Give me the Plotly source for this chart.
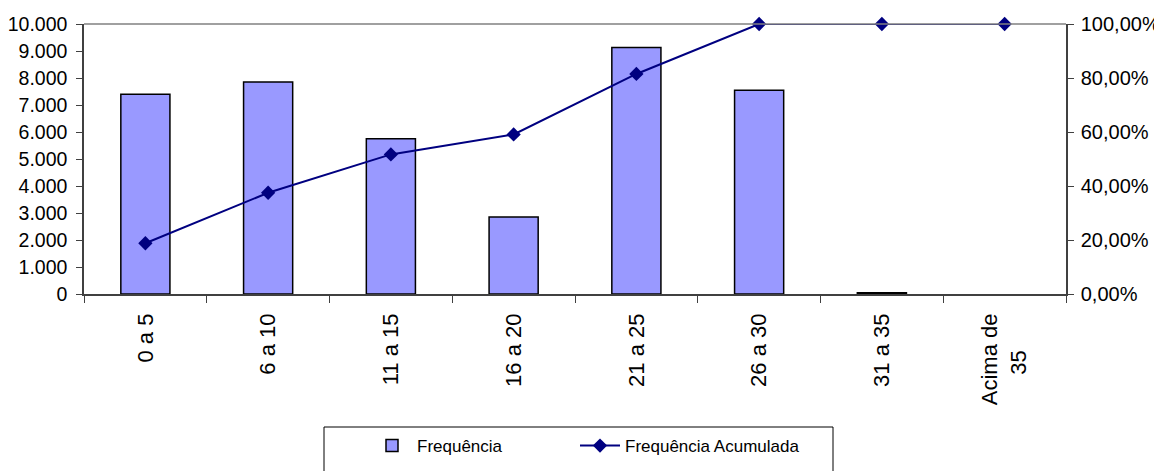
import plotly.graph_objects as go

NB = "\u00a0"
categories = ["0 a 5", "6 a 10", "11 a 15", "16 a 20", "21 a 25", "26 a 30", "31 a 35", "Acima de<br>35" + NB * 6]
frequencia = [7400, 7850, 5750, 2850, 9130, 7550, 50, 0]
freq_acumulada = [0.188, 0.375, 0.517, 0.591, 0.815, 1.0, 1.0, 1.0]

FONT = "Liberation Sans, Arial, sans-serif"

# the page body has an 8px margin: work in reference pixels, shift by 8
OFF = 8
W, H = 1162 - OFF, 471 - OFF
L, R, T, B = 84 - OFF, 1066 - OFF, 24 - OFF, 294 - OFF
AX = "#404040"


def px_x(p):
    return (p - OFF - L) / (R - L)


def px_y(p):
    return (B - (p - OFF)) / (B - T)


fig = go.Figure()
fig.add_trace(go.Bar(
    x=categories, y=frequencia, name="Frequência",
    marker=dict(color="#9999FF",
                line=dict(color="#000000", width=[1.5 if v > 0 else 0 for v in frequencia])),
    yaxis="y", legend="legend",
))
fig.add_trace(go.Scatter(
    x=categories, y=freq_acumulada, name="Frequência Acumulada",
    mode="lines+markers",
    line=dict(color="#000080", width=2),
    marker=dict(symbol="diamond", size=11, color="#000080"),
    yaxis="y2", cliponaxis=False, legend="legend2",
))

leg_common = dict(orientation="h", xanchor="left", y=px_y(428), yanchor="top",
                  borderwidth=0, bgcolor="rgba(0,0,0,0)", font=dict(size=17), itemwidth=40)

fig.update_layout(
    width=W, height=H,
    margin=dict(l=L, r=W - R, t=T, b=H - B, autoexpand=False),
    paper_bgcolor="white", plot_bgcolor="white",
    font=dict(family=FONT, size=20, color="black"),
    separators=",.",
    bargap=0.6,
    showlegend=True,
    xaxis=dict(
        type="category", range=[-0.5, 7.5], automargin=False,
        showline=True, linecolor=AX, linewidth=1.5,
        ticks="outside", ticklen=7, tickcolor=AX, tickwidth=1,
        tickson="boundaries", tickangle=-90, ticklabelstandoff=9,
        tickfont=dict(size=22), showgrid=False, zeroline=False,
    ),
    xaxis2=dict(
        overlaying="x", anchor="y", side="bottom", type="linear",
        range=[-0.5, 7.5], tick0=-0.5, dtick=1, automargin=False,
        ticks="inside", ticklen=6, tickcolor=AX, tickwidth=1,
        showticklabels=False, showline=False, showgrid=False, zeroline=False,
    ),
    yaxis=dict(
        range=[0, 10000], dtick=1000, tickformat=",d", automargin=False,
        showline=True, linecolor=AX, linewidth=1.5,
        ticks="outside", ticklen=6, tickcolor=AX, ticklabelstandoff=5,
        tickfont=dict(size=19.5),
        showgrid=False, zeroline=False,
    ),
    yaxis2=dict(
        range=[0, 1], dtick=0.2, tickformat=".2%", automargin=False,
        overlaying="y", side="right",
        showline=True, linecolor=AX, linewidth=1.5,
        ticks="outside", ticklen=6, tickcolor=AX, ticklabelstandoff=3,
        showgrid=False, zeroline=False,
    ),
    yaxis3=dict(
        range=[0, 10000], dtick=1000, overlaying="y", side="left", anchor="x",
        automargin=False, ticks="inside", ticklen=5, tickcolor=AX,
        showticklabels=False, showline=False, showgrid=False, zeroline=False,
    ),
    yaxis4=dict(
        range=[0, 1], dtick=0.2, overlaying="y", side="right", anchor="x",
        automargin=False, ticks="inside", ticklen=5, tickcolor=AX,
        showticklabels=False, showline=False, showgrid=False, zeroline=False,
    ),
    shapes=[
        dict(type="line", xref="paper", yref="paper", x0=0, x1=1, y0=1, y1=1,
             line=dict(color="#808080", width=1.5)),
        dict(type="rect", xref="paper", yref="paper",
             x0=px_x(324), x1=px_x(833), y0=px_y(427), y1=px_y(480),
             line=dict(color="black", width=1), fillcolor="rgba(0,0,0,0)"),
    ],
    legend=dict(x=px_x(367), **leg_common),
    legend2=dict(x=px_x(575), **leg_common),
)

fig.write_html("out.html")
